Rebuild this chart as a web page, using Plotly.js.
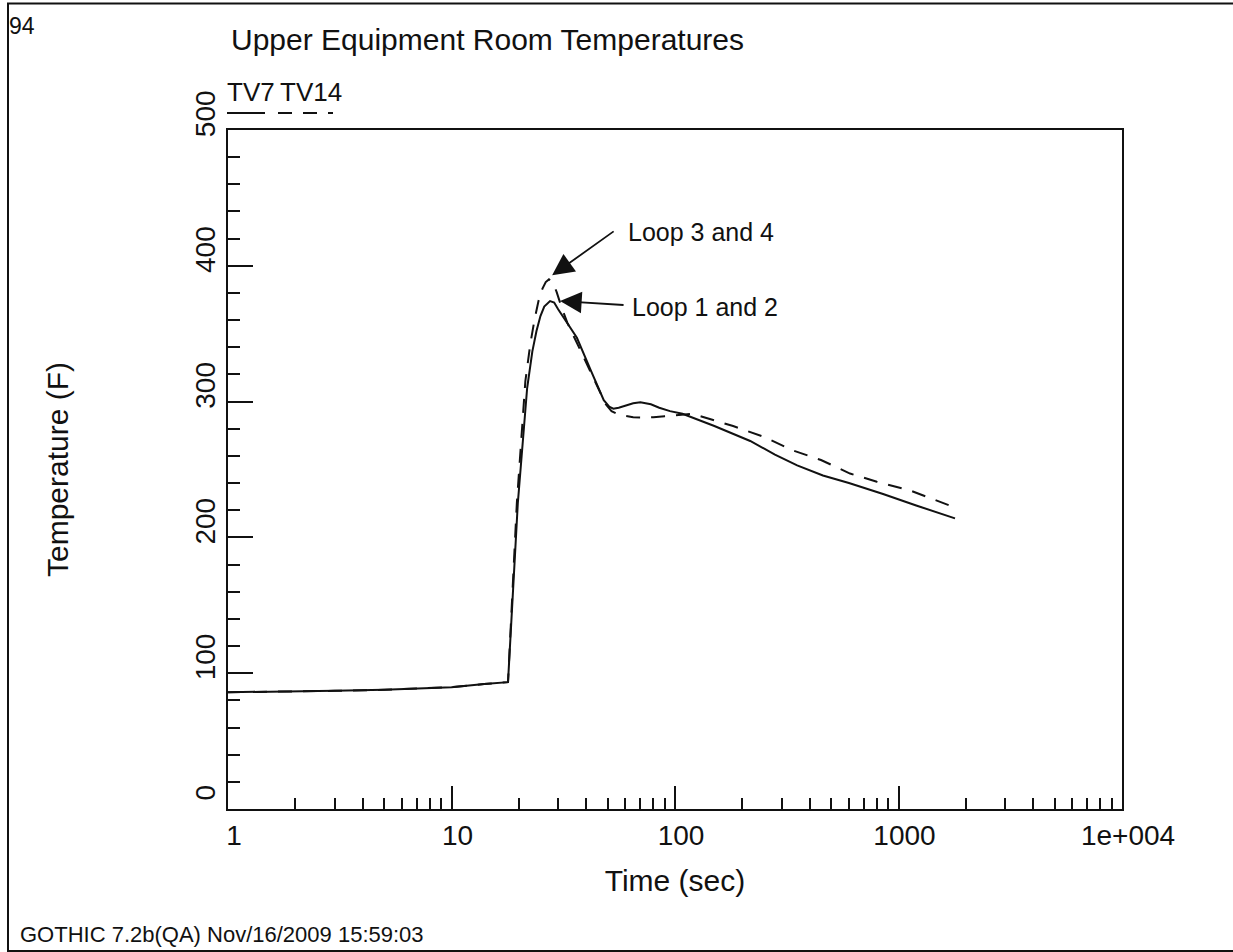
<!DOCTYPE html>
<html>
<head>
<meta charset="utf-8">
<script src="https://cdn.plot.ly/plotly-3.0.1.min.js"></script>
<style>
  html, body { margin: 0; padding: 0; background: #fff; }
  #chart { width: 1233px; height: 952px; }
</style>
</head>
<body>
<div id="chart"></div>
<script>
// ---- Data ----
const timeTV7 = [1, 2, 3, 5, 10, 14, 17.9, 19.8, 21.8, 23, 24, 25, 26, 27.6, 28.8, 30, 33, 36.4, 42, 48, 51, 53, 56, 60, 65, 70, 78, 85, 95, 108, 150, 217, 280, 352, 459, 600, 853, 1200, 1790];
const tempTV7 = [86, 86.5, 87, 87.8, 89.7, 92, 93.4, 225, 310, 337, 352, 363, 370, 374, 373, 368, 358, 347, 323, 301, 296, 294.8, 295.5, 297, 298.8, 299.5, 298, 295.5, 293, 291, 282, 271, 261, 253, 245.6, 240, 232, 223.5, 214];

const timeTV14 = [1, 2, 3, 5, 10, 14, 17.9, 19.6, 21.4, 22.5, 23.5, 24.5, 25.5, 26.4, 27.3, 28.3, 29.5, 31, 33, 40, 49, 52, 55, 60, 65, 72, 80, 90, 100, 120, 182, 250, 337, 450, 607, 800, 1125, 1500, 1790];
const tempTV14 = [86, 86.5, 87, 87.8, 89.7, 92, 93.4, 225, 315, 342, 360, 374, 383, 388, 390, 388, 381, 370, 358, 329, 298, 293, 291, 289.5, 288.5, 288.3, 288.5, 289.3, 290, 291, 282, 274, 264, 257, 247, 241, 234.6, 227, 222];

const seriesNames = ['TV7', 'TV14'];
const xTickVals = [1, 10, 100, 1000, 10000];
const xTickText = ['1', '10', '100', '1000', '1e+004'];
const yTickVals = [0, 100, 200, 300, 400, 500];

const chartTitle = 'Upper Equipment Room Temperatures';
const xTitle = 'Time (sec)';
const yTitle = 'Temperature (F)';
const pageNumber = '94';
const footerText = 'GOTHIC 7.2b(QA) Nov/16/2009 15:59:03';
const annLoop34 = {text: 'Loop 3 and 4', tipX: 28.2, tipY: 393, textX: 60.4, textY: 425};
const annLoop12 = {text: 'Loop 1 and 2', tipX: 30.6, tipY: 374, textX: 62.9, textY: 370};

// minor tick positions on the log axis (2..9 in each decade)
const xMinor = [];
for (let d = 1; d < 10000; d *= 10) {
  for (let k = 2; k <= 9; k++) xMinor.push(k * d);
}

const FONT = '"Liberation Sans", Arial, Helvetica, sans-serif';
const INK = '#111';

const traces = [
  {
    x: timeTV7, y: tempTV7, name: seriesNames[0], type: 'scatter', mode: 'lines',
    line: {color: INK, width: 2}
  },
  {
    x: timeTV14, y: tempTV14, name: seriesNames[1], type: 'scatter', mode: 'lines',
    line: {color: INK, width: 2, dash: '14px,11px'}
  }
];

// plot-area geometry helpers (paper coords)
const L = 228, R = 111, T = 130, B = 143, W = 1233, H = 952;
const PW = W - L - R, PH = H - T - B;
const px = v => (v - L) / PW;
const py = v => (H - B - v) / PH;

const layout = {
  width: W, height: H,
  margin: {l: L, r: R, t: T, b: B, pad: 0},
  paper_bgcolor: '#fff', plot_bgcolor: '#fff',
  showlegend: false,
  font: {family: FONT, color: INK, size: 28},
  title: {
    text: chartTitle, font: {family: FONT, size: 30, color: INK},
    xref: 'paper', x: px(231), xanchor: 'left',
    yref: 'container', y: 1 - 39 / H, yanchor: 'middle'
  },
  xaxis: {
    type: 'log', range: [0, 4],
    tickmode: 'array', tickvals: xTickVals, ticktext: xTickText,
    ticks: 'inside', ticklen: 23, tickwidth: 2, tickcolor: INK,
    minor: {tickmode: 'array', tickvals: xMinor, ticks: 'inside', ticklen: 11, tickwidth: 2, tickcolor: INK, showgrid: false},
    showline: true, linecolor: INK, linewidth: 2, mirror: true,
    showgrid: false, zeroline: false,
    ticklabelshift: 6,
    tickfont: {family: FONT, size: 28, color: INK},
    title: {text: xTitle, font: {family: FONT, size: 30, color: INK}, standoff: 20}
  },
  yaxis: {
    range: [0, 500],
    tickmode: 'array', tickvals: yTickVals,
    ticks: 'inside', ticklen: 25, tickwidth: 2, tickcolor: INK,
    minor: {dtick: 20, tick0: 0, ticks: 'inside', ticklen: 12, tickwidth: 2, tickcolor: INK, showgrid: false},
    showline: true, linecolor: INK, linewidth: 2, mirror: true,
    showgrid: false, zeroline: false,
    tickangle: -90,
    ticklabelshift: -12,
    tickfont: {family: FONT, size: 28, color: INK},
    title: {text: yTitle, font: {family: FONT, size: 30, color: INK}, standoff: 112}
  },
  annotations: [
    // curve labels with arrows
    {x: Math.log10(annLoop34.tipX), y: annLoop34.tipY, xref: 'x', yref: 'y', text: '',
     showarrow: true, arrowhead: 2, arrowsize: 2.4, arrowwidth: 1.8, arrowcolor: INK, ax: 63, ay: -45},
    {x: Math.log10(annLoop34.textX), y: annLoop34.textY, xref: 'x', yref: 'y', text: annLoop34.text,
     showarrow: false, xanchor: 'left', yanchor: 'middle', font: {family: FONT, size: 25, color: INK}},
    {x: Math.log10(annLoop12.tipX), y: annLoop12.tipY, xref: 'x', yref: 'y', text: '',
     showarrow: true, arrowhead: 2, arrowsize: 2.4, arrowwidth: 1.8, arrowcolor: INK, ax: 65, ay: 4},
    {x: Math.log10(annLoop12.textX), y: annLoop12.textY, xref: 'x', yref: 'y', text: annLoop12.text,
     showarrow: false, xanchor: 'left', yanchor: 'middle', font: {family: FONT, size: 25, color: INK}},
    // legend labels
    {x: px(225), y: py(92), xref: 'paper', yref: 'paper', text: seriesNames[0], showarrow: false,
     xanchor: 'left', yanchor: 'middle', font: {family: FONT, size: 26, color: INK}},
    {x: px(278), y: py(92), xref: 'paper', yref: 'paper', text: seriesNames[1], showarrow: false,
     xanchor: 'left', yanchor: 'middle', font: {family: FONT, size: 26, color: INK}},
    // page number and footer
    {x: px(7), y: py(26), xref: 'paper', yref: 'paper', text: pageNumber, showarrow: false,
     xanchor: 'left', yanchor: 'middle', font: {family: FONT, size: 23, color: INK}},
    {x: px(18), y: py(934), xref: 'paper', yref: 'paper', text: footerText, showarrow: false,
     xanchor: 'left', yanchor: 'middle', font: {family: FONT, size: 22, color: INK}}
  ],
  shapes: [
    // outer page frame
    {type: 'rect', xref: 'paper', yref: 'paper', x0: px(8), x1: px(1245), y0: py(951), y1: py(3.5),
     line: {color: INK, width: 2}, fillcolor: 'rgba(0,0,0,0)', layer: 'below'},
    // legend line samples
    {type: 'line', xref: 'paper', yref: 'paper', x0: px(227), x1: px(265), y0: py(113), y1: py(113),
     line: {color: INK, width: 2}},
    {type: 'line', xref: 'paper', yref: 'paper', x0: px(278), x1: px(333), y0: py(113), y1: py(113),
     line: {color: INK, width: 2, dash: '14px,11px'}}
  ]
};

Plotly.newPlot('chart', traces, layout, {staticPlot: true, displayModeBar: false});
</script>
</body>
</html>
